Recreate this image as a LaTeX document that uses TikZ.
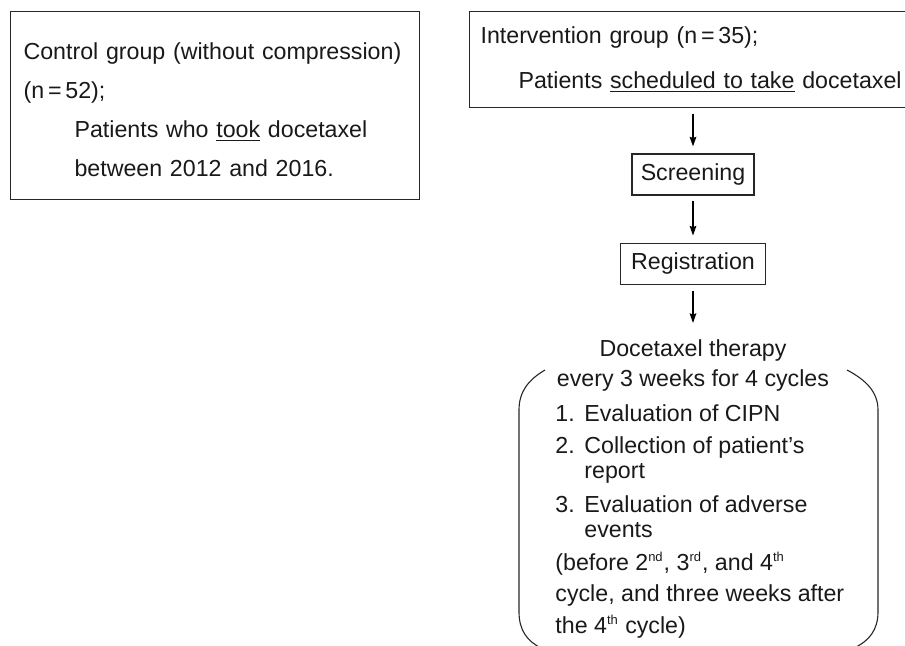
\documentclass[tikz,border=0pt]{standalone}
\usepackage{fontspec}
\setmainfont{Liberation Sans}
\usetikzlibrary{matrix,positioning,arrows.meta}

\newcommand{\ordsup}[1]{\textsuperscript{\fontsize{6.5}{6.5}\selectfont #1}}

\begin{document}
\begin{tikzpicture}[-{Stealth[length=4.8pt, width=3.3pt, inset=0.6pt]}, x=0.5pt, y=-0.5pt,
	every node/.style={font=\fontsize{11.6}{14}\selectfont, text=black!90},
	groupbox/.style={draw=black!85, line width=0.55pt, anchor=north west, align=left, inner ysep=0pt},
	stagebox/.style={draw=black!85, line width=0.55pt, minimum height=20.5pt, inner sep=0pt},
	flow/.style={line width=0.75pt, shorten <=3pt, shorten >=3.5pt},
	bracket/.style={-, draw=black!85, line width=0.55pt}]

\useasboundingbox (0,0) rectangle (905,646);

\node (control) [groupbox, text width=191.5pt, inner xsep=6.5pt, minimum height=94pt,
	font=\fontsize{11.6}{19.5}\selectfont] at (10,11)
{\rule{0pt}{12.5pt}Control group (without compression)\\
(n\,=\,52);\\
\hspace*{25.5pt}Patients who \underline{took} docetaxel\\
\hspace*{25.5pt}between 2012 and 2016.};

\node (intervention) [groupbox, text width=216pt, inner xsep=5.5pt, minimum height=48pt,
	font=\fontsize{11.6}{22.5}\selectfont] at (469,11)
{Intervention group (n\,=\,35);\\
\hspace*{19pt}Patients \underline{scheduled to take} docetaxel};

\node (screening) [stagebox, minimum width=61pt] at (693,174.5) {Screening};
\node (registration) [stagebox, minimum width=72.5pt, below=23.5pt of screening] {Registration};

\node (therapy) [anchor=north, align=center, inner sep=0pt,
	font=\fontsize{11.6}{15}\selectfont] at (693,339)
{Docetaxel therapy\\every 3 weeks for 4 cycles};

\matrix (steps) [matrix of nodes, anchor=north west, inner sep=0pt, row sep=0.5pt,
	nodes={anchor=base west, inner sep=0pt, text height=8.5pt, text depth=3.5pt}] at (555,404)
{
\makebox[14.5pt][l]{1.}Evaluation of CIPN\\[3.5pt]
\makebox[14.5pt][l]{2.}Collection of patient’s\\
\hspace*{14.5pt}report\\[4.5pt]
\makebox[14.5pt][l]{3.}Evaluation of adverse\\
\hspace*{14.5pt}events\\[4pt]
(before 2\ordsup{nd}, 3\ordsup{rd}, and 4\ordsup{th}\\[3pt]
cycle, and three weeks after\\[3.5pt]
the 4\ordsup{th} cycle)\\
};

\draw [flow] (screening.north |- intervention.south) to (screening);
\draw [flow, shorten <=2.5pt] (screening) to (registration);
\draw [flow, shorten >=8pt] (registration) to (registration.south |- therapy.north);

\draw [bracket] (545,370) .. controls (528,380) and (519,392) .. (519,410)
	-- (519,612) .. controls (519,630) and (527,641) .. (541,648);
\draw [bracket] (847,370) .. controls (866,380) and (878,392) .. (878,410)
	-- (878,612) .. controls (878,630) and (869,641) .. (854,648);

\end{tikzpicture}
\end{document}
